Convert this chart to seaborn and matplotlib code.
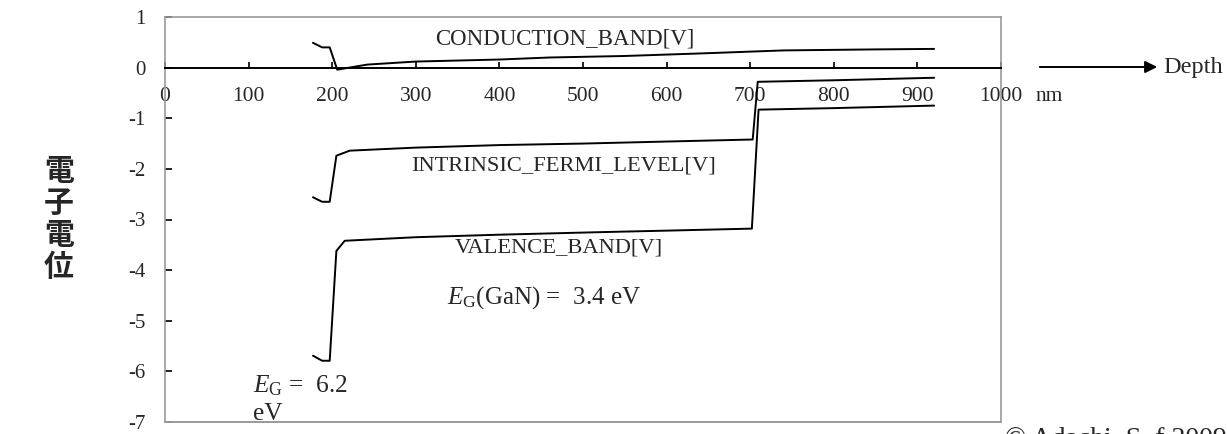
import matplotlib
matplotlib.use("Agg")
import matplotlib.pyplot as plt
import seaborn as sns
import pandas as pd

# ---- data ----
cond_x = [177, 188, 197, 206, 242, 300, 400, 460, 550, 640, 740, 850, 920]
cond_y = [0.49, 0.40, 0.40, -0.04, 0.06, 0.12, 0.16, 0.20, 0.23, 0.28, 0.34, 0.36, 0.37]

fermi_x = [177, 188, 197, 205, 221, 300, 400, 500, 600, 703, 709, 800, 920]
fermi_y = [-2.56, -2.65, -2.65, -1.74, -1.64, -1.58, -1.53, -1.50, -1.46, -1.42, -0.28, -0.25, -0.20]

val_x = [177, 188, 197, 205, 215, 300, 400, 520, 600, 702, 710, 800, 920]
val_y = [-5.69, -5.79, -5.79, -3.62, -3.42, -3.35, -3.30, -3.25, -3.22, -3.18, -0.83, -0.80, -0.75]

x_ticks = [0, 100, 200, 300, 400, 500, 600, 700, 800, 900, 1000]
y_ticks = [1, 0, -1, -2, -3, -4, -5, -6, -7]

series_names = ["CONDUCTION_BAND[V]", "INTRINSIC_FERMI_LEVEL[V]", "VALENCE_BAND[V]"]

df = pd.concat([
    pd.DataFrame({"depth": cond_x, "energy": cond_y, "band": series_names[0]}),
    pd.DataFrame({"depth": fermi_x, "energy": fermi_y, "band": series_names[1]}),
    pd.DataFrame({"depth": val_x, "energy": val_y, "band": series_names[2]}),
])

sns.set_theme(style="white")
plt.rcParams["font.family"] = ["Liberation Serif", "DejaVu Serif"]
plt.rcParams["mathtext.fontset"] = "custom"
plt.rcParams["mathtext.rm"] = "Liberation Serif"
plt.rcParams["mathtext.it"] = "Liberation Serif:italic"

W, H = 1227, 434
fig = plt.figure(figsize=(W / 100, H / 100), dpi=100)
ax = fig.add_axes([165 / W, 1 - 422 / H, (1001 - 165) / W, (422 - 17) / H])

for name in series_names:
    sns.lineplot(data=df[df["band"] == name], x="depth", y="energy", ax=ax,
                 color="black", linewidth=1.4, sort=False, estimator=None, legend=False)

ax.set_xlim(0, 1000)
ax.set_ylim(-7, 1)
ax.set_xlabel("")
ax.set_ylabel("")

# frame
gray = "#999999"
for s in ["top", "left", "right"]:
    ax.spines[s].set_color(gray)
    ax.spines[s].set_linewidth(1.2)
ax.spines["bottom"].set_position(("data", 0))
ax.spines["bottom"].set_color("black")
ax.spines["bottom"].set_linewidth(1.4)
ax.plot([0, 1], [0, 0], transform=ax.transAxes, color=gray, lw=1.4, clip_on=False)

xpad = 14
ax.set_xticks(x_ticks)
ax.set_xticklabels([str(v) for v in x_ticks])
ax.set_yticks(y_ticks)
ax.set_yticklabels([str(v) for v in y_ticks])
ax.tick_params(axis="x", direction="in", length=4, width=1.2, color="black",
               labelsize=15.5, pad=xpad, bottom=True)
ax.tick_params(axis="y", direction="in", length=5, width=1.2, color="black",
               labelsize=15, pad=14, left=True)

# unit after the last x tick label
ax.annotate("nm", xy=(1041, 0), xycoords="data", xytext=(0, -xpad),
            textcoords="offset points", fontsize=15.5, ha="left", va="top",
            annotation_clip=False)

# labels on curves
ax.text(478, 0.57, "CONDUCTION_BAND[V]", fontsize=16.5, ha="center", va="center")
ax.text(477, -1.94, "INTRINSIC_FERMI_LEVEL[V]", fontsize=16.2, ha="center", va="center")
ax.text(471, -3.56, "VALENCE_BAND[V]", fontsize=16.2, ha="center", va="center")
ax.text(337, -4.55, r"$E_\mathrm{G}$(GaN) =  3.4 eV", fontsize=18, ha="left", va="center")
ax.text(105, -6.28, r"$E_\mathrm{G}$ =  6.2", fontsize=18.3, ha="left", va="center")
ax.text(105, -6.85, "eV", fontsize=18.3, ha="left", va="center", clip_on=False)

# Depth arrow
ax.annotate("", xy=(1160 / W, 1 - 67 / H), xytext=(1037 / W, 1 - 67 / H),
            xycoords="figure fraction", textcoords="figure fraction",
            arrowprops=dict(arrowstyle="-|>", color="black", lw=1.4, mutation_scale=18))
fig.text(1163 / W, 1 - 68 / H, "Depth", fontsize=17.5, ha="left", va="center")

# y label (vertical Japanese)
fig.text(59 / W, 1 - 219 / H, "\n".join("電子電位"), fontsize=21.5, ha="center", va="center",
         family=["Noto Sans CJK JP", "DejaVu Sans"], fontweight="bold", linespacing=1.08)

# copyright (cut off at the bottom, as in the reference)
fig.text(1005 / W, -0.028, "© Adachi  S. f 2009", fontsize=20, ha="left", va="baseline")

fig.savefig("out.png", dpi=100)
